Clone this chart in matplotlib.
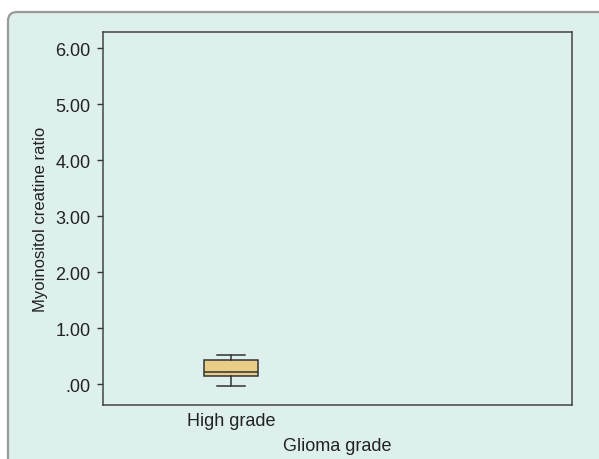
import numpy as np
import matplotlib.pyplot as plt
from matplotlib.patches import FancyBboxPatch
from matplotlib.transforms import IdentityTransform

plt.rcParams['font.family'] = ['Liberation Sans', 'DejaVu Sans']

# box summary
categories = ['High grade']
whislo = [-0.04]
q1 = [0.14]
med = [0.21]
q3 = [0.43]
whishi = [0.52]
yticks = [0, 1, 2, 3, 4, 5, 6]
yticklabels = ['.00', '1.00', '2.00', '3.00', '4.00', '5.00', '6.00']

W, H = 599, 460
fig = plt.figure(figsize=(W / 100, H / 100), dpi=100)
fig.patch.set_facecolor('white')

# light rounded panel behind the chart
panel = FancyBboxPatch((8, -30), 640, H - 13 + 30,
                       boxstyle='round,pad=0,rounding_size=9',
                       transform=IdentityTransform(), facecolor='#ddf0ed',
                       edgecolor='#9a9a9a', linewidth=1.6, zorder=-5)
fig.patches.append(panel)

ax = fig.add_axes([103 / W, 1 - 406 / H, (572 - 103) / W, (406 - 33) / H])
ax.set_facecolor('none')
ax.set_zorder(2)

stats = [dict(label=c, whislo=a, q1=b, med=m, q3=d, whishi=e, fliers=[])
         for c, a, b, m, d, e in zip(categories, whislo, q1, med, q3, whishi)]
ax.bxp(stats, positions=[1], widths=0.21, patch_artist=True,
       boxprops=dict(facecolor='#e8cd86', edgecolor='#333333', linewidth=1.1),
       medianprops=dict(color='#333333', linewidth=1.1),
       whiskerprops=dict(color='#333333', linewidth=1.1),
       capprops=dict(color='#333333', linewidth=1.1), capwidths=0.11)

fs = 13
ax.set_xlim(0.5, 2.33)
ax.set_ylim(-0.375, 6.29)
ax.set_yticks(yticks)
ax.set_yticklabels(yticklabels)
ax.tick_params(axis='y', length=4, width=1, color='#333333', labelsize=fs, pad=5, labelcolor='#222222')
ax.tick_params(axis='x', length=0, labelsize=fs, pad=5, labelcolor='#222222')
for s in ax.spines.values():
    s.set_color('#444444')
    s.set_linewidth(1.1)

ax.set_ylabel('Myoinositol creatine ratio', fontsize=12, color='#222222', labelpad=5)
ax.set_xlabel('Glioma grade', fontsize=fs, color='#222222', labelpad=6)

fig.savefig('out.png', dpi=100)
